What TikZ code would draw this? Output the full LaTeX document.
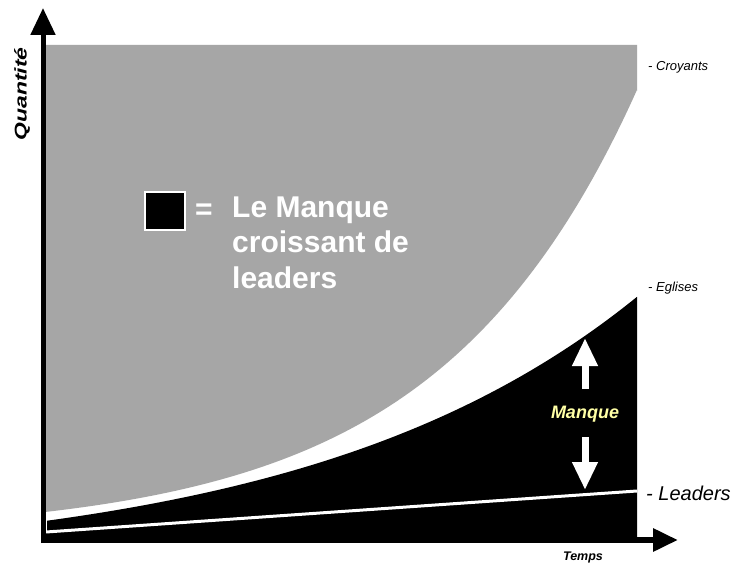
\documentclass[tikz,border=0pt]{standalone}
\usepackage{fontspec}
\usepackage{graphicx}
\setmainfont{Liberation Sans}
\usetikzlibrary{arrows.meta}
\definecolor{grayfill}{RGB}{166,166,166}
\definecolor{manqueyellow}{RGB}{255,255,165}
\begin{document}
\begin{tikzpicture}[x=1pt,y=-1pt,
  axisline/.style={line width=#1, black},
  whitearrow/.style={line width=7pt, white, -{Triangle[width=24pt,length=28pt]}},
  sidelabel/.style={inner sep=0pt, anchor=west, font=\itshape\fontsize{13}{13}\selectfont},
  legendtext/.style={inner sep=0pt, text=white, font=\bfseries\fontsize{30}{35.5}\selectfont}]
\useasboundingbox[fill=white] (0,0) rectangle (734,567);

% grey region (croyants)
\fill[grayfill] (46,45) -- (637,45) -- (637,87) -- (637,91)
  -- plot[domain=637:46,samples=120] (\x,{512-23*(exp(0.005*(\x-45))-1)}) -- cycle;

% black region (eglises)
\fill[black] plot[domain=47:637,samples=120] (\x,{521-45.5*(exp(0.003*(\x-45))-1)})
  -- (637,540) -- (46,540) -- (46,533) -- (47,533) -- cycle;

% leaders line
\coordinate (l0) at (46,532);
\coordinate (l1) at (637,491);
\draw[white, line width=3pt] (l0) -- (l1);

% axes
\coordinate (o) at (43,543);
\coordinate (ytip) at (43,8);
\coordinate (ox) at (41,540);
\coordinate (xtip) at (678,540);
\draw[axisline=5pt, -{Triangle[width=24pt,length=27pt]}] (o) -- (ytip);
\draw[axisline=6pt, -{Triangle[width=22pt,length=25pt]}] (ox) -- (xtip);

% axis labels
\node[font=\bfseries\itshape\fontsize{17}{17}\selectfont, rotate=90, inner sep=0pt] (qty) at (22,94) {\scalebox{1.35}[1]{Quantité}};
\node[font=\bfseries\itshape\fontsize{12.5}{12.5}\selectfont, inner sep=0pt] (temps) at (583,557) {Temps};

% side labels
\node[sidelabel] (croy) at (648,67) {- Croyants};
\node[sidelabel] (egl) at (648,288) {- Eglises};
\node[sidelabel, font=\itshape\fontsize{20}{20}\selectfont] (lead) at (646,493) {- Leaders};

% manque arrows
\node[inner sep=0pt, text=manqueyellow, font=\bfseries\itshape\fontsize{18}{18}\selectfont] (manque) at (585,414) {Manque};
\coordinate (upstart) at (585,389);
\coordinate (uptip) at (585,338);
\coordinate (dnstart) at (585,437);
\coordinate (dntip) at (585,490);
\draw[whitearrow] (upstart) -- (uptip);
\draw[whitearrow] (dnstart) -- (dntip);

% legend
\node[draw=white, fill=black, line width=2pt, minimum width=40pt, minimum height=37pt, inner sep=0pt] (legend) at (164.5,211) {};
\node[legendtext] (eq) at (204,212) {=};
\node[legendtext, anchor=base west, align=left] (legtxt) at (232,288) {Le Manque\\croissant de\\leaders};
\end{tikzpicture}
\end{document}
